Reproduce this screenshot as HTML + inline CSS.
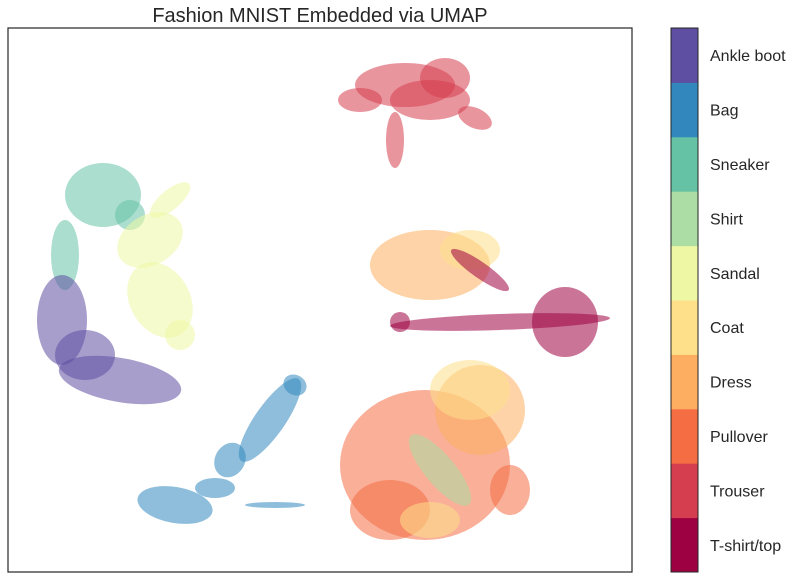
<!DOCTYPE html>
<html><head><meta charset="utf-8"><style>
body{margin:0;background:#fff;font-family:"Liberation Sans","DejaVu Sans",sans-serif}
</style></head><body>
<svg id="c" width="802" height="579" xmlns="http://www.w3.org/2000/svg">
<text x="320" y="22" text-anchor="middle" font-size="20" fill="#262626">Fashion MNIST Embedded via UMAP</text>
<g id="plot"></g>
<rect x="8" y="28" width="624" height="544" fill="none" stroke="#262626" stroke-width="1.2"/>
<g id="cbar"></g>
</svg>
<script>
const categories=["T-shirt/top","Trouser","Pullover","Dress","Coat","Sandal","Shirt","Sneaker","Bag","Ankle boot"];
const colors=["#9e0142","#d53e4f","#f46d43","#fdae61","#fee08b","#eef7a4","#abdda4","#66c2a5","#3288bd","#5e4fa2"];
// blobs in embedding coords (x 0..624, y 0..544 y-up): centre, radii, rotation, class
const blobX=[397,437,467,352,387,422, 95,57,122, 162,142,152,172, 112,54,77, 262,222,167,207,267,287, 417,382,472,462,422,502,432, 422,462,472,557,392,492];
const blobY=[487,494,454,472,432,472, 377,317,357, 372,332,272,237, 192,252,217, 152,112,67,84,67,187, 107,62,162,182,52,82,102, 307,322,302,250,250,250];
const blobRX=[50,25,18,22,9,40, 38,14,15, 25,35,30,15, 62,25,30, 15,15,38,20,30,12, 85,40,45,40,30,20,15, 60,30,35,33,10,110];
const blobRY=[22,20,10,12,28,20, 32,35,15, 10,25,40,15, 22,45,25, 50,18,18,10,3,10, 75,30,45,30,18,25,45, 35,20,8,35,10,8];
const blobRot=[0,0,25,0,0,0, 0,0,0, -40,-30,-30,0, 10,0,0, 35,30,10,0,0,30, 0,0,0,0,0,0,-40, 0,0,35,0,0,-2];
const blobClass=[1,1,1,1,1,1, 7,7,7, 5,5,5,5, 9,9,9, 8,8,8,8,8,8, 2,2,3,4,4,2,6, 3,4,0,0,0,0];
const X0=8,X1=632,Y0=572,Y1=28;
const xs=v=>X0+v/624*(X1-X0);
const ys=v=>Y0-v/544*(Y0-Y1);
const ns="http://www.w3.org/2000/svg";
const plot=document.getElementById('plot');
for(let i=0;i<blobX.length;i++){
  const e=document.createElementNS(ns,'ellipse');
  const cx=xs(blobX[i]),cy=ys(blobY[i]);
  e.setAttribute('cx',cx);e.setAttribute('cy',cy);
  e.setAttribute('rx',blobRX[i]/624*(X1-X0));e.setAttribute('ry',blobRY[i]/544*(Y0-Y1));
  e.setAttribute('transform','rotate('+blobRot[i]+' '+cx+' '+cy+')');
  e.setAttribute('fill',colors[blobClass[i]]);e.setAttribute('fill-opacity','0.55');
  
  
  plot.appendChild(e);
}
const cb=document.getElementById('cbar');
const bh=544/10;
for(let i=0;i<10;i++){
  const y=572-(i+1)*bh;
  const r=document.createElementNS(ns,'rect');
  r.setAttribute('x',671);r.setAttribute('y',y);r.setAttribute('width',27);r.setAttribute('height',bh+0.5);
  r.setAttribute('fill',colors[i]);
  
  
  cb.appendChild(r);
  const t=document.createElementNS(ns,'text');
  t.setAttribute('x',710);t.setAttribute('y',y+bh/2+6);t.setAttribute('font-size','16');t.setAttribute('fill','#262626');
  t.textContent=categories[i];
  
  
  cb.appendChild(t);
}
const fr=document.createElementNS(ns,'rect');
fr.setAttribute('x',671);fr.setAttribute('y',28);fr.setAttribute('width',27);fr.setAttribute('height',544);
fr.setAttribute('fill','none');fr.setAttribute('stroke','#262626');


cb.appendChild(fr);
</script>
</body></html>
